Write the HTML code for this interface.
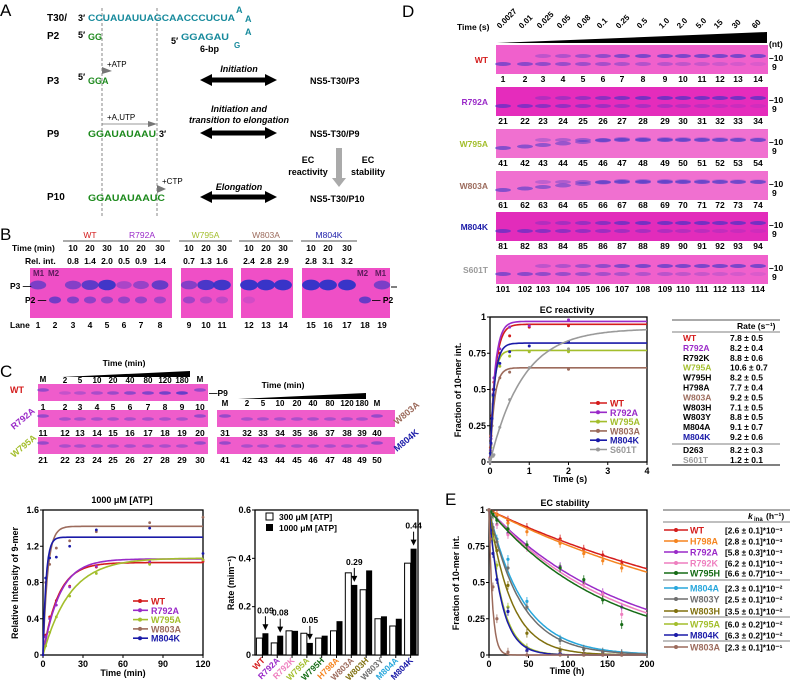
<!DOCTYPE html>
<html><head><meta charset="utf-8"><style>
html,body{margin:0;padding:0;background:#fff;width:791px;height:687px;overflow:hidden}
svg{display:block;font-family:"Liberation Sans",Arial,sans-serif}
</style></head><body>
<svg id="fig" width="791" height="687" viewBox="0 0 791 687" xmlns="http://www.w3.org/2000/svg"></svg>
<script>
// ---------- DATA ----------
const cSeries = ['WT','R792A','W795A','W803A','M804K'];
const cAmp = [1.02,1.06,1.07,1.42,1.30];
const cRate = [0.09,0.08,0.05,0.29,0.44];
const cTimes = [0,2,5,10,20,40,80,120];
const cWT = [0,0.22,0.42,0.6,0.76,0.97,1.01,1.03];
const cR792A = [0,0.2,0.4,0.55,0.75,0.98,1.03,1.05];
const cW795A = [0,0.1,0.25,0.42,0.65,0.9,1.0,1.05];
const cW803A = [0,0.8,1.0,1.18,1.26,1.36,1.46,1.52];
const cM804K = [0,0.85,1.07,1.08,1.2,1.38,1.4,1.12];
const cYTicks = ['0','0.4','0.8','1.2','1.6'];
const cXTicks = ['0','30','60','90','120'];

const barCats = ['WT','R792A','R792K','W795A','W795H','H798A','W803A','W803H','W803Y','M804A','M804K'];
const bar300 = [0.07,0.05,0.10,0.09,0.07,0.10,0.34,0.27,0.15,0.12,0.38];
const bar1000 = [0.09,0.08,0.10,0.05,0.08,0.14,0.29,0.35,0.16,0.15,0.44];
const barYTicks = ['0','0.2','0.4','0.6'];

const dSeries = ['WT','R792A','W795A','W803A','M804K','S601T'];
const dAmp = [0.95,0.97,0.77,0.65,0.82,0.92];
const dRate = [7.8,8.2,10.6,9.2,9.2,1.2];
const dTimes = [0,0.0027,0.01,0.025,0.05,0.08,0.1,0.25,0.5,1,2];
const dWT = [0,0.03,0.1,0.18,0.32,0.5,0.55,0.75,0.87,0.93,0.94];
const dR792A = [0,0.02,0.08,0.16,0.3,0.47,0.58,0.78,0.93,0.94,0.98];
const dW795A = [0,0.02,0.07,0.1,0.25,0.45,0.5,0.66,0.73,0.76,0.76];
const dW803A = [0,0.02,0.06,0.12,0.25,0.4,0.46,0.58,0.62,0.65,0.64];
const dM804K = [0,0.02,0.06,0.13,0.3,0.46,0.5,0.68,0.76,0.8,0.83];
const dS601T = [0,0.01,0.02,0.03,0.04,0.04,0.05,0.24,0.43,0.65,0.78];
const dYTicks = ['0','0.25','0.5','0.75','1'];
const dXTicks = ['0','1','2','3','4'];
const dTableNames = ['WT','R792A','R792K','W795A','W795H','H798A','W803A','W803H','W803Y','M804A','M804K','D263','S601T'];
const dTableVals = ['7.8 ± 0.5','8.2 ± 0.4','8.8 ± 0.6','10.6 ± 0.7','8.2 ± 0.5','7.7 ± 0.4','9.2 ± 0.5','7.1 ± 0.5','8.8 ± 0.5','9.1 ± 0.7','9.2 ± 0.6','8.2 ± 0.3','1.2 ± 0.1'];
const dTableColored = ['WT','R792A','W795A','W803A','M804K','S601T'];

const eSeries = ['WT','H798A','R792A','R792K','W795H','M804A','W803Y','W803H','W795A','M804K','W803A'];
const eK = [0.0026,0.0028,0.0058,0.0062,0.0066,0.023,0.025,0.035,0.060,0.063,0.23];
const eKText = ['[2.6 ± 0.1]*10⁻³','[2.8 ± 0.1]*10⁻³','[5.8 ± 0.3]*10⁻³','[6.2 ± 0.1]*10⁻³','[6.6 ± 0.7]*10⁻³','[2.3 ± 0.1]*10⁻²','[2.5 ± 0.1]*10⁻²','[3.5 ± 0.1]*10⁻²','[6.0 ± 0.2]*10⁻²','[6.3 ± 0.2]*10⁻²','[2.3 ± 0.1]*10⁻¹'];
const eTimes = [0,2,5,10,24,48,90,120,144,168];
const ePts = [
 [1,0.99,0.99,0.97,0.93,0.88,0.8,0.73,0.69,0.63],
 [1,0.99,0.98,0.96,0.91,0.85,0.77,0.7,0.65,0.6],
 [1,0.99,0.97,0.9,0.84,0.75,0.61,0.5,0.43,0.33],
 [1,0.98,0.96,0.9,0.83,0.74,0.6,0.49,0.42,0.28],
 [1,0.99,0.97,0.93,0.87,0.76,0.6,0.52,0.38,0.21],
 [1,0.95,0.88,0.8,0.66,0.37,0.11,0.04,0.02,0.01],
 [1,0.95,0.88,0.78,0.6,0.33,0.1,0.04,0.02,0.01],
 [1,0.93,0.83,0.72,0.48,0.15,0.03,0.01,0,0],
 [1,0.82,0.8,0.62,0.33,0.05,0.01,0,0,0],
 [1,0.86,0.7,0.52,0.3,0.03,0.01,0,0,0],
 [1,0.8,0.47,0.25,0.02,0,0,0,0,0]];
const eYTicks = ['0','0.25','0.5','0.75','1'];
const eXTicks = ['0','50','100','150','200'];

// ---------- HELPERS ----------
const NS='http://www.w3.org/2000/svg';
const svg=document.getElementById('fig');
const COL={WT:'#d41c1c',R792A:'#9a2ac8',R792K:'#ee7fbf',W795A:'#a3be2c',W795H:'#156b15',H798A:'#f5841f',W803A:'#9c6b5c',W803H:'#80700e',W803Y:'#6e6e6e',M804A:'#28a7dc',M804K:'#1a1aa8',S601T:'#9a9a9a',D263:'#000'};
function mk(tag,attrs,name,parent){
 const e=document.createElementNS(NS,tag);
 for(const k in attrs) e.setAttribute(k,attrs[k]);
 
 
 (parent||svg).appendChild(e);
 return e;
}
function T(x,y,s,o,name){
 o=o||{};
 const a={x:x,y:y,'font-size':o.fs||9,'font-weight':o.fw||'bold',fill:o.c||'#000','text-anchor':o.a||'start'};
 if(o.tr) a.transform=o.tr;
 if(o.st) a['font-style']=o.st;
 if(o.tl){a.textLength=o.tl;a.lengthAdjust='spacingAndGlyphs';}
 const e=mk('text',a,name||'label');
 e.textContent=s;
 return e;
}
function L(x1,y1,x2,y2,c,w,name,dash){
 const a={x1,y1,x2,y2,stroke:c||'#000','stroke-width':w||1};
 if(dash) a['stroke-dasharray']=dash;
 return mk('line',a,name||'line');
}
function dbl(x1,x2,y){
 mk('polygon',{points:`${x1},${y} ${x1+12},${y-6} ${x1+12},${y-2.5} ${x2-12},${y-2.5} ${x2-12},${y-6} ${x2},${y} ${x2-12},${y+6} ${x2-12},${y+2.5} ${x1+12},${y+2.5} ${x1+12},${y+6}`,fill:'#000'},'double-arrow');
}
function gel(x,y,w,h,color,name){ return mk('rect',{x,y,width:w,height:h,fill:color},name); }
function band(cx,cy,rx,ry,op,name){ return mk('ellipse',{cx,cy,rx,ry,fill:'#2d33c8','fill-opacity':op},name||'band'); }

// ---------- PANEL A ----------
T(0,16,'A',{fs:17,fw:'normal'},'panel-a-letter');
L(102,8,102,218,'#555',0.7,'dashed-guide-1','3,2');
L(157,8,157,218,'#555',0.7,'dashed-guide-2','3,2');
T(47,21,'T30/',{fs:10},'t30-label');T(78,21,'3′',{fs:9},'prime-3');
T(88,21,'CCUAUAUUAGCAACCCUCUA',{fs:9,c:'#178a9c',tl:147},'t30-sequence');
T(236,13,'A',{fs:9,c:'#178a9c'},'loop-a1');T(245,22,'A',{fs:9,c:'#178a9c'},'loop-a2');
T(47,39,'P2',{fs:10},'p2-label');T(78,38,'5′',{fs:9},'prime-5');T(88,40,'GG',{fs:9,c:'#1d8a1d'},'p2-seq');
T(171,44,'5′',{fs:9},'prime-5b');T(181,40,'GGAGAU',{fs:9,c:'#178a9c',tl:48},'hairpin-seq');
T(234,48,'G',{fs:8,c:'#178a9c'},'loop-g');T(245,35,'A',{fs:9,c:'#178a9c'},'loop-a3');
T(200,52,'6-bp',{fs:9},'six-bp-label');
T(107,67,'+ATP',{fs:8,fw:'normal'},'atp-label');
mk('polygon',{points:'102,67 112,71 102,74',fill:'#777'},'atp-arrow');
T(47,84,'P3',{fs:10},'p3-label');T(78,80,'5′',{fs:9},'prime-5c');T(88,84,'GGA',{fs:9,c:'#1d8a1d'},'p3-seq');
T(239,72,'Initiation',{fs:9,st:'italic',a:'middle'},'initiation-label');dbl(200,277,80);
T(310,84,'NS5-T30/P3',{fs:9},'complex-p3');
T(107,120,'+A,UTP',{fs:8,fw:'normal'},'autp-label');L(102,124,150,124,'#777',0.8,'autp-line');
mk('polygon',{points:'148,121 157,124 148,127',fill:'#777'},'autp-arrow');
T(47,137,'P9',{fs:10},'p9-label');T(88,137,'GGAUAUAAU',{fs:9,c:'#1d8a1d',tl:68},'p9-seq');T(159,137,'3′',{fs:9},'prime-3b');
T(239,112,'Initiation and',{fs:9,st:'italic',a:'middle'},'init-trans-1');T(239,123,'transition to elongation',{fs:9,st:'italic',a:'middle'},'init-trans-2');
dbl(200,277,133);T(310,137,'NS5-T30/P9',{fs:9},'complex-p9');
mk('polygon',{points:'336,148 342,148 342,178 346,178 339,187 332,178 336,178',fill:'#aaa'},'ec-arrow');
T(308,163,'EC',{fs:9,a:'middle'},'ec-react-1');T(308,175,'reactivity',{fs:9,a:'middle'},'ec-react-2');
T(368,163,'EC',{fs:9,a:'middle'},'ec-stab-1');T(368,175,'stability',{fs:9,a:'middle'},'ec-stab-2');
T(162,184,'+CTP',{fs:8,fw:'normal'},'ctp-label');
mk('polygon',{points:'157,185 166,189 157,193',fill:'#777'},'ctp-arrow');
T(47,200,'P10',{fs:10},'p10-label');T(88,201,'GGAUAUAAUC',{fs:9,c:'#1d8a1d',tl:77},'p10-seq');
T(239,190,'Elongation',{fs:9,st:'italic',a:'middle'},'elongation-label');dbl(200,277,197);
T(310,202,'NS5-T30/P10',{fs:9},'complex-p10');

// ---------- PANEL B ----------
T(0,240,'B',{fs:17,fw:'normal'},'panel-b-letter');
const bLane=[38,55,73,90,107,124,141,160,189,206,222,249,266,283,311,328,347,365,382];
const bGroups=[['WT',[2,4]],['R792A',[5,7]],['W795A',[8,10]],['W803A',[11,13]],['M804K',[14,16]]];
const bRel=['0.8','1.4','2.0','0.5','0.9','1.4','0.7','1.3','1.6','2.4','2.8','2.9','2.8','3.1','3.2'];
T(12,251,'Time (min)',{fs:8.5},'time-min-label');T(25,264,'Rel. int.',{fs:8.5},'rel-int-label');
bGroups.forEach((g,gi)=>{
 const a=bLane[g[1][0]],b=bLane[g[1][1]];
 T((a+b)/2,238,g[0],{fs:8.5,c:COL[g[0]],a:'middle',fw:'normal'},'gel-b-header');
 L(a-10,241,b+10,241,'#555',1,'header-underline');
 for(let i=0;i<3;i++){
  T(bLane[g[1][0]+i],251,['10','20','30'][i],{fs:8.5,a:'middle'},'time-value');
  T(bLane[g[1][0]+i],264,bRel[gi*3+i],{fs:8.5,a:'middle'},'rel-int-value');
 }
});
gel(30,268,142,50,'#ef4fc6','gel-b-1');gel(181,268,52,50,'#ef4fc6','gel-b-2');gel(241,268,52,50,'#ef4fc6','gel-b-3');gel(302,268,88,50,'#ef4fc6','gel-b-4');
const p3op=[0.6,0,0.55,0.75,0.9,0.35,0.45,0.7,0.55,0.85,0.9,0.95,0.95,0.95,0.95,0.95,0.95,0,0.6];
const p2op=[0,0.65,0.55,0.5,0.45,0.45,0.45,0.4,0.4,0.3,0.25,0.15,0,0,0,0,0,0.7,0];
bLane.forEach((x,i)=>{
 if(p3op[i]>0) band(x,285,7+p3op[i]*2,3+p3op[i]*2.5,p3op[i],'band-p3');
 if(p2op[i]>0) band(x,300,6,3.5,p2op[i],'band-p2');
 T(x,328,String(i+1),{fs:8.5,a:'middle'},'lane-number');
});
T(33,276,'M1',{fs:8,c:'#5a1a5a'},'m1-label');T(48,276,'M2',{fs:8,c:'#5a1a5a'},'m2-label');
T(357,276,'M2',{fs:8,c:'#5a1a5a'},'m2-label-right');T(375,276,'M1',{fs:8,c:'#5a1a5a'},'m1-label-right');
T(10,289,'P3 —',{fs:8.5},'p3-marker');T(25,303,'P2 —',{fs:8.5},'p2-marker');
T(372,303,'— P2',{fs:8.5},'p2-marker-right');L(391,287,397,287,'#000',1,'p3-tick-right');
T(10,328,'Lane',{fs:8.5},'lane-label');

// ---------- PANEL C gels ----------
T(0,377,'C',{fs:17,fw:'normal'},'panel-c-letter');
T(124,366,'Time (min)',{fs:8.5,a:'middle'},'c-time-label');
mk('polygon',{points:'62,377 190,371 190,377',fill:'#000'},'c-time-wedge-left');
T(283,388,'Time (min)',{fs:8.5,a:'middle'},'c-time-label-right');
mk('polygon',{points:'238,399 366,393 366,399',fill:'#000'},'c-time-wedge-right');
const cTimesLbl=['2','5','10','20','40','80','120','180'];
const cgL=[43,65,80,97,113,130,148,165,182,200];
const cgR=[225,247,263,280,297,313,330,347,362,377];
cTimesLbl.forEach((t,i)=>{T(cgL[i+1],383,t,{fs:8,a:'middle'},'c-time-value');T(cgR[i+1],406,t,{fs:8,a:'middle'},'c-time-value-right');});
T(cgL[0],382,'M',{fs:8,a:'middle'},'m-label');T(cgL[9],382,'M',{fs:8,a:'middle'},'m-label');
T(cgR[0],406,'M',{fs:8,a:'middle'},'m-label');T(cgR[9],406,'M',{fs:8,a:'middle'},'m-label');
const cgRows=[[38,384,'WT',1],[38,410,'R792A',11],[38,437,'W795A',21],[217,410,'W803A',31],[217,437,'M804K',41]];
cgRows.forEach(r=>{
 gel(r[0],r[1],r[0]===38?170:178,17,'#ef5ccb','gel-c-row');
 const lanes=r[0]===38?cgL:cgR;
 lanes.forEach((x,i)=>{
  const op=(i===0||i===9)?0.45:(r[2]==='WT'?0.15+i*0.07:0.35);
  band(x,r[1]+(i===0||i===9?6:9),6,1.8,op,'band-p9');
  T(x,r[1]+26,String(r[3]+i),{fs:8.5,a:'middle'},'lane-number');
 });
});
T(10,393,'WT',{fs:9,c:COL.WT},'c-wt-label');
T(14,430,'R792A',{fs:9,c:COL.R792A,tr:'rotate(-40 14 430)'},'c-r792a-label');
T(14,458,'W795A',{fs:9,c:COL.W795A,tr:'rotate(-40 14 458)'},'c-w795a-label');
T(397,425,'W803A',{fs:9,c:COL.W803A,tr:'rotate(-40 397 425)'},'c-w803a-label');
T(397,452,'M804K',{fs:9,c:COL.M804K,tr:'rotate(-40 397 452)'},'c-m804k-label');
T(209,396,'—P9',{fs:8.5},'p9-marker');

// ---------- generic axes ----------
function axes(x0,x1,y0,y1,xt,yt,name){
 mk('rect',{x:x0,y:y1,width:x1-x0,height:y0-y1,fill:'none',stroke:'#000','stroke-width':1.3},name+'-frame');
 xt.forEach((t,i)=>{const x=x0+(x1-x0)*i/(xt.length-1);L(x,y0,x,y0+3,'#000',1,name+'-xtick');T(x,y0+12,t,{fs:9,a:'middle'},name+'-xtick-label');});
 yt.forEach((t,i)=>{const y=y0-(y0-y1)*i/(yt.length-1);L(x0-3,y,x0,y,'#000',1,name+'-ytick');T(x0-4,y+3,t,{fs:9,a:'end'},name+'-ytick-label');});
}
function curve(fn,xmax,sx,sy,color,name,w){
 let d='';for(let i=0;i<=120;i++){const t=xmax*i/120;d+=(i?'L':'M')+sx(t).toFixed(1)+','+sy(fn(t)).toFixed(1);}
 return mk('path',{d:d,fill:'none',stroke:color,'stroke-width':w||1.6},name);
}

// ---------- C line chart ----------
(function(){
 const x0=43,x1=203,y0=655,y1=510;
 const sx=t=>x0+(x1-x0)*t/120, sy=v=>y0-(y0-y1)*v/1.6;
 axes(x0,x1,y0,y1,cXTicks,cYTicks,'c-chart');
 T(122,503,'1000 μM [ATP]',{fs:9,a:'middle'},'c-chart-title');
 T(123,676,'Time (min)',{fs:9,a:'middle'},'c-x-title');
 T(18,583,'Relative Intensity of 9-mer',{fs:9,a:'middle',tr:'rotate(-90 18 583)'},'c-y-title');
 const pts=[cWT,cR792A,cW795A,cW803A,cM804K];
 cSeries.forEach((s,i)=>{
  curve(t=>cAmp[i]*(1-Math.exp(-cRate[i]*t)),120,sx,sy,COL[s],'c-fit-'+s);
  pts[i].forEach((v,j)=>mk('circle',{cx:sx(cTimes[j]),cy:sy(v),r:1.4,fill:COL[s]},'c-point-'+s));
  const ly=601+i*9.3;
  L(133,ly,148,ly,COL[s],1.6,'legend-line');mk('circle',{cx:140,cy:ly,r:2,fill:COL[s]},'legend-marker');
  T(151,ly+3.5,s,{fs:9,c:COL[s]},'legend-entry-'+s);
 });
})();

// ---------- C bar chart ----------
(function(){
 const x0=255,x1=418,y0=655,y1=510;
 const sy=v=>y0-(y0-y1)*v/0.6, step=(x1-x0)/11;
 mk('rect',{x:x0,y:y1,width:x1-x0,height:y0-y1,fill:'none',stroke:'#000','stroke-width':1.3},'bar-frame');
 barYTicks.forEach((t,i)=>{const y=sy(i*0.2);L(x0-3,y,x0,y,'#000',1,'bar-ytick');T(x0-4,y+3,t,{fs:9,a:'end'},'bar-ytick-label');});
 T(234,583,'Rate (mim⁻¹)',{fs:9,a:'middle',tr:'rotate(-90 234 583)'},'bar-y-title');
 barCats.forEach((c,i)=>{
  const cx=x0+step*(i+0.5);
  mk('rect',{x:cx-6,y:sy(bar300[i]),width:6,height:y0-sy(bar300[i]),fill:'#fff',stroke:'#000','stroke-width':1},'bar-300-'+c);
  mk('rect',{x:cx,y:sy(bar1000[i]),width:6,height:y0-sy(bar1000[i]),fill:'#000'},'bar-1000-'+c);
  L(cx,y0,cx,y0+3,'#000',1,'bar-xtick');
  T(cx+3,y0+6,c,{fs:8.5,c:COL[c],a:'end',tr:`rotate(-45 ${cx+3} ${y0+6})`},'bar-x-label');
 });
 [[0,'0.09'],[1,'0.08'],[3,'0.05'],[6,'0.29'],[10,'0.44']].forEach(a=>{
  const i=a[0],cx=x0+step*(i+0.5)+3,top=sy(bar1000[i])-3;
  L(cx,top-14,cx,top-4,'#000',1,'annot-arrow-line');
  mk('polygon',{points:`${cx-3},${top-6} ${cx+3},${top-6} ${cx},${top}`,fill:'#000'},'annot-arrowhead');
  T(cx,top-17,a[1],{fs:8.5,a:'middle'},'bar-annotation');
 });
 mk('rect',{x:266,y:513,width:7,height:7,fill:'#fff',stroke:'#000'},'legend-300-swatch');T(279,520,'300 μM [ATP]',{fs:8.5},'legend-300');
 mk('rect',{x:266,y:524,width:7,height:7,fill:'#000'},'legend-1000-swatch');T(279,531,'1000 μM [ATP]',{fs:8.5},'legend-1000');
})();

// ---------- PANEL D gels ----------
T(402,17,'D',{fs:17,fw:'normal'},'panel-d-letter');
T(457,30,'Time (s)',{fs:8.5},'d-time-label');
const dTimeLbl=['0.0027','0.01','0.025','0.05','0.08','0.1','0.25','0.5','1.0','2.0','5.0','15','30','60'];
const dLane=[503,525,543,563,583,603,622,643,665,683,702,720,738,758];
dTimeLbl.forEach((t,i)=>T(dLane[i]-3,29,t,{fs:8,tr:`rotate(-45 ${dLane[i]-3} 29)`},'d-time-value'));
mk('polygon',{points:'497,43 767,32 767,43',fill:'#000'},'d-time-wedge');
T(769,47,'(nt)',{fs:8.5},'nt-label');
const dRows=[['WT',45,1,'#f060cc'],['R792A',87,21,'#e52cbc'],['W795A',129,41,'#f070d0'],['W803A',171,61,'#f070d0'],['M804K',212,81,'#e22cbb'],['S601T',255,101,'#f060cc']];
dRows.forEach(r=>{
 gel(496,r[1],272,29,r[3],'gel-d-'+r[0]);
 T(488,r[1]+18,r[0],{fs:8.5,c:COL[r[0]],a:'end'},'d-gel-label');
 dLane.forEach((x,i)=>{
  const f=i/13;
  band(x,r[1]+19-(r[0]==='W795A'||r[0]==='W803A'?Math.min(i,6)*1.5:0),8,2,0.55*(1-f*0.8),'band-9mer');
  if(i>1) band(x,r[1]+11,8,2,Math.min(0.6,0.1+f),'band-10mer');
  T(x,r[1]+37,String(r[2]+i),{fs:8.5,a:'middle'},'lane-number');
 });
 T(769,r[1]+16,'–10',{fs:8.5},'nt-10');T(772,r[1]+25,'9',{fs:8.5},'nt-9');
});

// ---------- D chart ----------
(function(){
 const x0=490,x1=647,y0=462,y1=317;
 const sx=t=>x0+(x1-x0)*t/4, sy=v=>y0-(y0-y1)*v;
 axes(x0,x1,y0,y1,dXTicks,dYTicks,'d-chart');
 T(567,313,'EC reactivity',{fs:9,a:'middle'},'d-chart-title');
 T(570,482,'Time (s)',{fs:9,a:'middle'},'d-x-title');
 T(461,390,'Fraction of 10-mer int.',{fs:9,a:'middle',tr:'rotate(-90 461 390)'},'d-y-title');
 const pts=[dWT,dR792A,dW795A,dW803A,dM804K,dS601T];
 dSeries.forEach((s,i)=>{
  curve(t=>dAmp[i]*(1-Math.exp(-dRate[i]*t)),4,sx,sy,COL[s],'d-fit-'+s);
  pts[i].forEach((v,j)=>mk('circle',{cx:sx(dTimes[j]),cy:sy(v),r:1.5,fill:COL[s]},'d-point-'+s));
  const ly=403+i*9.3;
  L(590,ly,607,ly,COL[s],1.6,'legend-line');mk('circle',{cx:598,cy:ly,r:2,fill:COL[s]},'legend-marker');
  T(610,ly+3.5,s,{fs:9,c:COL[s]},'d-legend-entry-'+s);
 });
 L(672,320,780,320,'#555',1,'table-top-rule');L(672,332,780,332,'#555',0.8,'table-header-rule');
 L(672,444,780,444,'#555',0.8,'table-mid-rule');L(672,465,780,465,'#000',1,'table-bottom-rule');
 T(737,329,'Rate (s⁻¹)',{fs:8.5},'table-rate-header');
 dTableNames.forEach((n,i)=>{
  const y=i<11?341+i*9.9:i===11?453:463;
  T(683,y,n,{fs:8.5,c:dTableColored.includes(n)?COL[n]:'#000'},'table-name');T(730,y,dTableVals[i],{fs:8.5},'table-rate');
 });
})();

// ---------- E chart ----------
(function(){
 T(445,505,'E',{fs:17,fw:'normal'},'panel-e-letter');
 const x0=489,x1=647,y0=655,y1=510;
 const sx=t=>x0+(x1-x0)*t/200, sy=v=>y0-(y0-y1)*v;
 axes(x0,x1,y0,y1,eXTicks,eYTicks,'e-chart');
 T(565,506,'EC stability',{fs:9,a:'middle'},'e-chart-title');
 T(567,674,'Time (h)',{fs:9,a:'middle'},'e-x-title');
 T(459,583,'Fraction of 10-mer int.',{fs:9,a:'middle',tr:'rotate(-90 459 583)'},'e-y-title');
 eSeries.forEach((s,i)=>{
  curve(t=>Math.exp(-eK[i]*t),200,sx,sy,COL[s],'e-fit-'+s,1.5);
  eTimes.forEach((t,j)=>{
   const v=ePts[i][j];
   L(sx(t),sy(Math.min(1,v+0.03)),sx(t),sy(Math.max(0,v-0.03)),COL[s],0.8,'e-errorbar-'+s);
   mk('circle',{cx:sx(t),cy:sy(v),r:1.6,fill:COL[s]},'e-point-'+s);
  });
 });
 L(663,510,790,510,'#555',1,'e-table-top');L(663,522,790,522,'#555',0.8,'e-table-header-rule');
 T(748,519,'k',{fs:8.5,st:'italic'},'kina-header');T(754,521,'ina',{fs:6},'kina-sub');T(766,519,'(h⁻¹)',{fs:8.5},'kina-unit');
 const ys=[530,541,552,563,573,588,599,611,624,635,647];
 eSeries.forEach((s,i)=>{
  const y=ys[i];
  L(664,y,688,y,COL[s],1.6,'e-legend-line');mk('circle',{cx:676,cy:y,r:2,fill:COL[s]},'e-legend-marker');
  T(690,y+3.5,s,{fs:9,c:COL[s]},'e-legend-entry-'+s);
  T(725,y+3.5,eKText[i],{fs:8.3},'e-kina-value');
 });
 [580,617,641].forEach(y=>L(663,y,790,y,'#555',0.7,'e-table-separator'));
})();
</script>
</body></html>
